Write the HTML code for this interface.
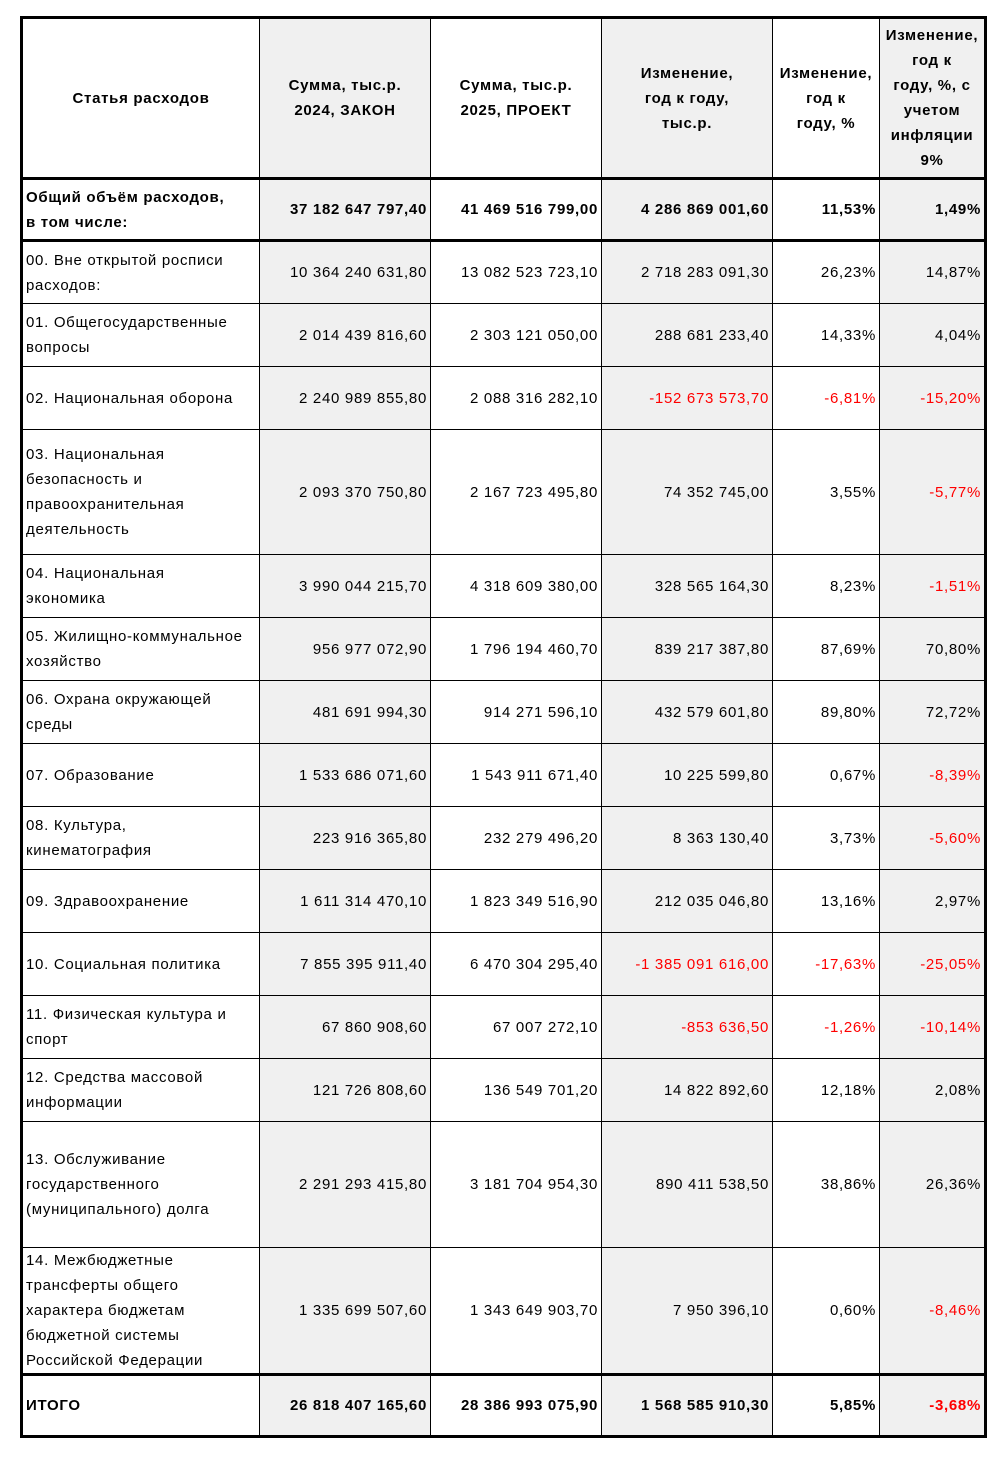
<!DOCTYPE html>
<html><head><meta charset="utf-8"><style>
body{margin:0;background:#fff;}
table{position:absolute;left:20px;top:16px;border-collapse:collapse;table-layout:fixed;width:964px;font-family:"Liberation Sans",sans-serif;font-size:15px;letter-spacing:0.7px;color:#000;border:3px solid #000;}
td{border:1.5px solid #000;padding:0 3px;line-height:25px;text-align:right;white-space:nowrap;}
td:first-child{text-align:left;white-space:normal;}
td:nth-child(2),td:nth-child(4),td:nth-child(6){background:#f0f0f0;}
.h td{text-align:center;font-weight:bold;white-space:normal;}
.h td{border-bottom:3px solid #000;}
.t td{font-weight:bold;border-bottom:3px solid #000;}
.i td{font-weight:bold;border-top:3px solid #000;}
.r{color:#f00;}
</style></head><body>
<table>
<colgroup><col style="width:238px"><col style="width:171px"><col style="width:171px"><col style="width:171px"><col style="width:107px"><col style="width:106px"></colgroup>
<tr class="h" style="height:161px"><td style="text-align:center">Статья расходов</td><td>Сумма, тыс.р.<br>2024, ЗАКОН</td><td>Сумма, тыс.р.<br>2025, ПРОЕКТ</td><td>Изменение,<br>год к году,<br>тыс.р.</td><td>Изменение,<br>год к<br>году, %</td><td>Изменение,<br>год к<br>году, %, с<br>учетом<br>инфляции<br>9%</td></tr>
<tr class="t" style="height:62px"><td>Общий объём расходов,<br>в том числе:</td><td>37 182 647 797,40</td><td>41 469 516 799,00</td><td>4 286 869 001,60</td><td>11,53%</td><td>1,49%</td></tr>
<tr style="height:63px"><td>00. Вне открытой росписи расходов:</td><td>10 364 240 631,80</td><td>13 082 523 723,10</td><td>2 718 283 091,30</td><td>26,23%</td><td>14,87%</td></tr>
<tr style="height:63px"><td>01. Общегосударственные вопросы</td><td>2 014 439 816,60</td><td>2 303 121 050,00</td><td>288 681 233,40</td><td>14,33%</td><td>4,04%</td></tr>
<tr style="height:63px"><td>02. Национальная оборона</td><td>2 240 989 855,80</td><td>2 088 316 282,10</td><td class="r">-152 673 573,70</td><td class="r">-6,81%</td><td class="r">-15,20%</td></tr>
<tr style="height:125px"><td>03. Национальная безопасность и правоохранительная деятельность</td><td>2 093 370 750,80</td><td>2 167 723 495,80</td><td>74 352 745,00</td><td>3,55%</td><td class="r">-5,77%</td></tr>
<tr style="height:63px"><td>04. Национальная<br>экономика</td><td>3 990 044 215,70</td><td>4 318 609 380,00</td><td>328 565 164,30</td><td>8,23%</td><td class="r">-1,51%</td></tr>
<tr style="height:63px"><td>05. Жилищно-коммунальное хозяйство</td><td>956 977 072,90</td><td>1 796 194 460,70</td><td>839 217 387,80</td><td>87,69%</td><td>70,80%</td></tr>
<tr style="height:63px"><td>06. Охрана окружающей среды</td><td>481 691 994,30</td><td>914 271 596,10</td><td>432 579 601,80</td><td>89,80%</td><td>72,72%</td></tr>
<tr style="height:63px"><td>07. Образование</td><td>1 533 686 071,60</td><td>1 543 911 671,40</td><td>10 225 599,80</td><td>0,67%</td><td class="r">-8,39%</td></tr>
<tr style="height:63px"><td>08. Культура, кинематография</td><td>223 916 365,80</td><td>232 279 496,20</td><td>8 363 130,40</td><td>3,73%</td><td class="r">-5,60%</td></tr>
<tr style="height:63px"><td>09. Здравоохранение</td><td>1 611 314 470,10</td><td>1 823 349 516,90</td><td>212 035 046,80</td><td>13,16%</td><td>2,97%</td></tr>
<tr style="height:63px"><td>10. Социальная политика</td><td>7 855 395 911,40</td><td>6 470 304 295,40</td><td class="r">-1 385 091 616,00</td><td class="r">-17,63%</td><td class="r">-25,05%</td></tr>
<tr style="height:63px"><td>11. Физическая культура и спорт</td><td>67 860 908,60</td><td>67 007 272,10</td><td class="r">-853 636,50</td><td class="r">-1,26%</td><td class="r">-10,14%</td></tr>
<tr style="height:63px"><td>12. Средства массовой информации</td><td>121 726 808,60</td><td>136 549 701,20</td><td>14 822 892,60</td><td>12,18%</td><td>2,08%</td></tr>
<tr style="height:126px"><td>13. Обслуживание государственного (муниципального) долга</td><td>2 291 293 415,80</td><td>3 181 704 954,30</td><td>890 411 538,50</td><td>38,86%</td><td>26,36%</td></tr>
<tr style="height:126px"><td>14. Межбюджетные трансферты общего характера бюджетам бюджетной системы Российской Федерации</td><td>1 335 699 507,60</td><td>1 343 649 903,70</td><td>7 950 396,10</td><td>0,60%</td><td class="r">-8,46%</td></tr>
<tr class="i" style="height:62px"><td>ИТОГО</td><td>26 818 407 165,60</td><td>28 386 993 075,90</td><td>1 568 585 910,30</td><td>5,85%</td><td class="r">-3,68%</td></tr>
</table>
</body></html>
